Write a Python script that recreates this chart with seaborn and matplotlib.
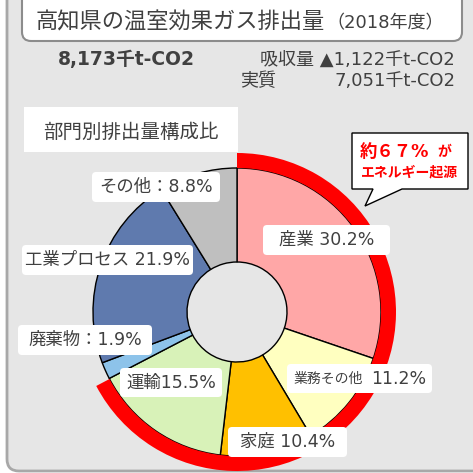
import matplotlib
matplotlib.use("Agg")
import matplotlib.pyplot as plt
from matplotlib.patches import FancyBboxPatch, Rectangle, Polygon, Circle
import seaborn as sns

# データ（2018年度 高知県の温室効果ガス排出量）
sectors = ['産業', '業務その他', '家庭', '運輸', '廃棄物', '工業プロセス', 'その他']
shares = [30.2, 11.2, 10.4, 15.5, 1.9, 21.9, 8.8]
labels = ['産業 30.2%', '業務その他 11.2%', '家庭 10.4%', '運輸15.5%',
          '廃棄物：1.9%', '工業プロセス 21.9%', 'その他：8.8%']
colors = ['#FFA7A7', '#FFFFC0', '#FFC000', '#D8F2B8', '#8DC3EA', '#5F7AAE', '#BFBFBF']
energy_sectors = ['産業', '業務その他', '家庭', '運輸']

total_text = '8,173千t-CO2'
absorb_text = '吸収量 ▲1,122千t-CO2'
net_value = '7,051千t-CO2'

sns.set_theme(style="white")
plt.rcParams['font.family'] = ['DejaVu Sans', 'Noto Sans CJK JP']

BG = '#E6E6E6'
TXT = '#404040'
H = 473

def Y(py):
    # 画像の座標（上から）をデータ座標に変換
    return H - py

fig = plt.figure(figsize=(4.73, 4.73), dpi=100)
fig.patch.set_facecolor('white')
ax = fig.add_axes([0, 0, 1, 1])

# 外枠
ax.add_patch(FancyBboxPatch((7, Y(471)), 480, 520, boxstyle='round,pad=0,rounding_size=12',
                            fc=BG, ec='#A8A8A8', lw=2, zorder=0))

# タイトル枠
ax.add_patch(FancyBboxPatch((22, Y(41)), 440, 60, boxstyle='round,pad=0,rounding_size=9',
                            fc='white', ec='#8C8C8C', lw=1.5, zorder=1))
ax.text(36, Y(22), '高知県の温室効果ガス排出量', fontsize=16, color=TXT,
        ha='left', va='center', zorder=2)
ax.text(326, Y(23), '（2018年度）', fontsize=13, color=TXT, ha='left', va='center', zorder=2)

ax.text(58, Y(60), total_text, fontsize=13.5, fontweight='bold', color=TXT,
        ha='left', va='center')
ax.text(455, Y(60), absorb_text, fontsize=13, color=TXT, ha='right', va='center')
ax.text(240, Y(81), '実質', fontsize=13, color=TXT, ha='left', va='center')
ax.text(455, Y(81), net_value, fontsize=13, color=TXT, ha='right', va='center')

# 小見出し
ax.add_patch(Rectangle((24, Y(152)), 214, 45, fc='white', ec='none', zorder=1))
ax.text(131, Y(132), '部門別排出量構成比', fontsize=14, color=TXT, ha='center', va='center', zorder=2)

# ドーナツグラフ
cx, cy = 237, Y(312)
r_out, r_in = 144, 50
ax.add_patch(Circle((cx, cy), r_in, fc=BG, ec='none', zorder=0.5))
ax.pie(shares, colors=colors, startangle=90, counterclock=False,
       center=(cx, cy), radius=r_out, frame=True,
       wedgeprops=dict(width=r_out - r_in, edgecolor='black', linewidth=1))

# エネルギー起源の赤いリング
energy_share = sum(s for n, s in zip(sectors, shares) if n in energy_sectors)
ax.pie([energy_share, 100 - energy_share], colors=['#FF0000', 'none'], startangle=90,
       counterclock=False, center=(cx, cy), radius=r_out + 15, frame=True,
       wedgeprops=dict(width=15, edgecolor='none'))
ax.set_xlim(0, 473)
ax.set_ylim(0, 473)
ax.set_aspect('equal')
ax.axis('off')

# ラベル（白い角丸ボックス）
boxes = [(263, 225, 127, 30), (287, 364, 145, 29), (228, 427, 119, 30), (120, 368, 102, 29),
         (18, 325, 134, 30), (22, 245, 171, 30), (92, 172, 128, 30)]
for lab, (bx, by, bw, bh) in zip(labels, boxes):
    ax.add_patch(FancyBboxPatch((bx, Y(by + bh)), bw, bh, boxstyle='round,pad=0,rounding_size=4',
                                fc='white', ec='none', zorder=5))
    if lab.startswith('業務その他'):
        name, val = lab.split(' ')
        ax.text(bx + 6, Y(by + bh / 2), name, fontsize=10, color=TXT, ha='left', va='center', zorder=6)
        ax.text(bx + bw - 6, Y(by + bh / 2), val, fontsize=12.5, color=TXT, ha='right', va='center', zorder=6)
    else:
        ax.text(bx + bw / 2, Y(by + bh / 2), lab, fontsize=12.5, color=TXT,
                ha='center', va='center', zorder=6)

# 吹き出し
callout = [(352, 133), (468, 133), (468, 189), (402, 189), (365, 206), (373, 189), (352, 189)]
ax.add_patch(Polygon([(x, Y(y)) for x, y in callout], closed=True, fc='white', ec='black',
                     lw=1, zorder=5))
ax.text(394, Y(152), '約６７%', fontsize=12.5, fontweight='bold', color='#FF0000',
        ha='center', va='center', zorder=6)
ax.text(437, Y(152), 'が', fontsize=10, fontweight='bold', color='#FF0000',
        ha='left', va='center', zorder=6)
ax.text(410, Y(172), 'エネルギー起源', fontsize=10, fontweight='bold', color='#FF0000',
        ha='center', va='center', zorder=6)

fig.savefig('out.png', dpi=100)
